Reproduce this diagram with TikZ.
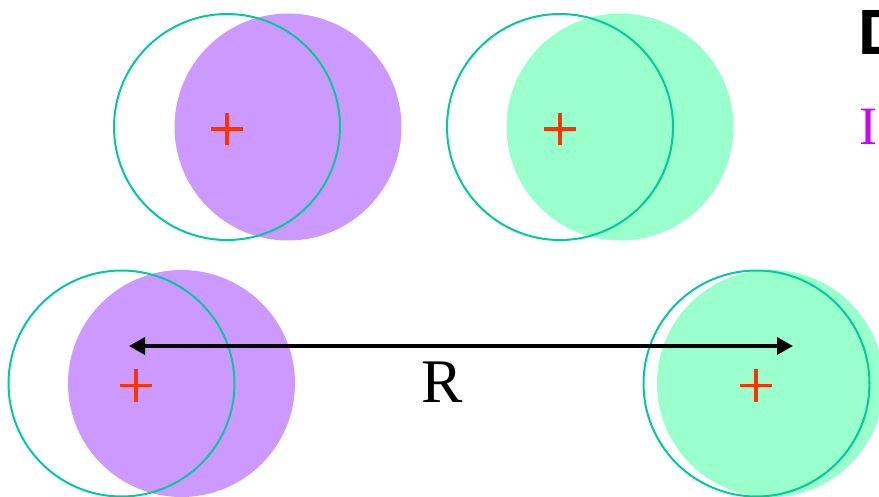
\documentclass[tikz,border=0pt]{standalone}
\usepackage{fontspec}
\setmainfont{Liberation Serif}
\newfontfamily\headfont{Liberation Sans}
\usepackage{xcolor}
\usetikzlibrary{arrows.meta,positioning}

\definecolor{lilac}{HTML}{CC99FF}
\definecolor{mint}{HTML}{99FFCC}
\definecolor{ringgreen}{HTML}{00CC99}
\definecolor{crossred}{HTML}{FF3300}
\definecolor{magtext}{HTML}{CC00FF}

\begin{document}
\begin{tikzpicture}[x=1pt,y=-1pt, every node/.style={inner sep=0pt},
  ring/.style={circle,draw=ringgreen,line width=2pt,minimum size=226pt},
  blobA/.style={circle,fill=lilac,minimum size=227pt},
  blobB/.style={circle,fill=mint,minimum size=227pt},
  cross/.style={minimum size=32pt},
  dimarr/.style={{Triangle[length=16pt,width=17pt]}-{Triangle[length=16pt,width=17pt]},line width=3.5pt}]
\useasboundingbox (0,0) rectangle (879,496);
\clip (0,0) rectangle (879,496);
% top row
\node[blobA] (fillA) at (288,127) {};
\node[ring] (ringA) at (227,127) {};
\node[cross] (crossA) at (227,129) {};
\node[blobB] (fillB) at (620,127) {};
\node[ring] (ringB) at (560,127) {};
\node[cross] (crossB) at (560,129) {};
% bottom row
\node[blobA] (fillC) at (181.5,383.5) {};
\node[ring] (ringC) at (121.5,383.5) {};
\node[cross] (crossC) at (136,385.5) {};
\node[blobB] (fillD) at (770.5,383.5) {};
\node[ring] (ringD) at (756.5,383.5) {};
\node[cross] (crossD) at (756,385.5) {};
\foreach \c in {crossA,crossB,crossC,crossD}{
  \draw[crossred,line width=3.5pt] (\c.west) -- (\c.east) (\c.north) -- (\c.south);
}
% separation
\coordinate (endL) at (129,346);
\coordinate (endR) at (793,346);
\draw[dimarr] (endL) -- (endR);
\node[anchor=base,font=\fontsize{62}{64}\selectfont] (sep) at (442.5,402) {R};
% clipped text on the right
\node[anchor=base west,font=\headfont\bfseries\fontsize{64}{66}\selectfont] (head) at (858.5,54) {D};
\node[anchor=base west,text=magtext,font=\fontsize{54}{56}\selectfont] (item) at (859,144) {I};
\end{tikzpicture}
\end{document}
